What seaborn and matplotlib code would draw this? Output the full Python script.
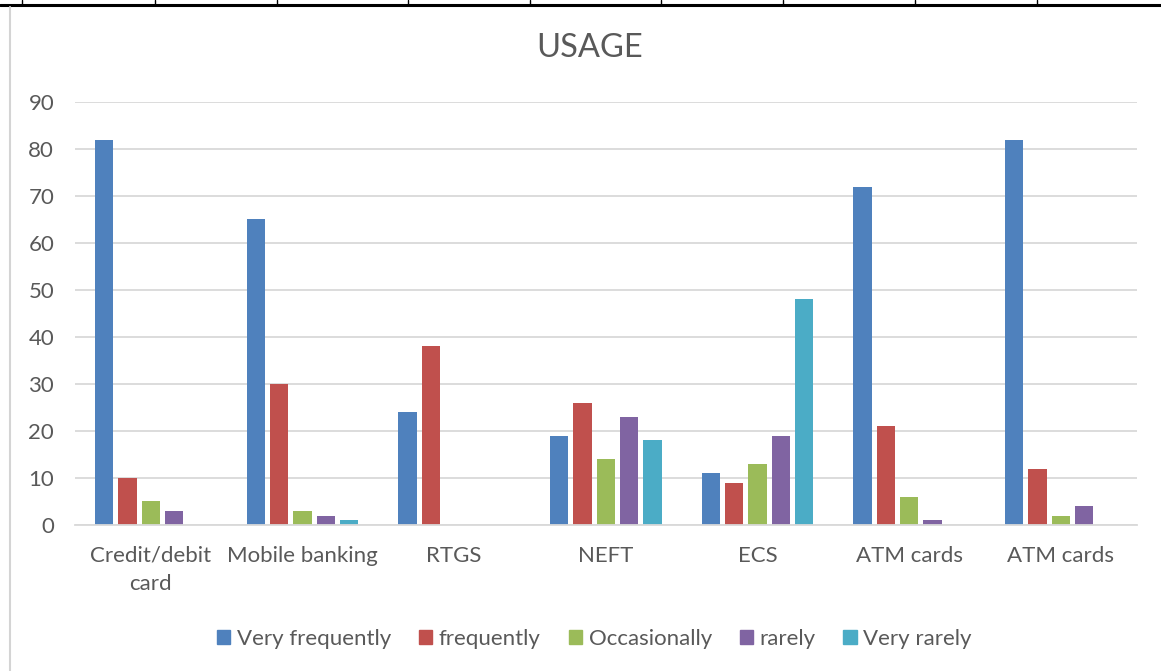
import matplotlib
matplotlib.use("Agg")
import matplotlib.pyplot as plt
import matplotlib.lines as mlines
import seaborn as sns
import pandas as pd

# Payment channels (the last two share a name, so positions are used on the axis)
categories = ["Credit/debit\ncard", "Mobile banking", "RTGS", "NEFT", "ECS", "ATM cards", "ATM cards"]
series = ["Very frequently", "frequently", "Occasionally", "rarely", "Very rarely"]

very_frequently = [82, 65, 24, 19, 11, 72, 82]
frequently = [10, 30, 38, 26, 9, 21, 12]
occasionally = [5, 3, 0, 14, 13, 6, 2]
rarely = [3, 2, 0, 23, 19, 1, 4]
very_rarely = [0, 1, 0, 18, 48, 0, 0]

colors = ["#4F81BD", "#C0504D", "#9BBB59", "#8064A2", "#4BACC6"]
text_color = "#595959"

rows = []
for name, vals in zip(series, [very_frequently, frequently, occasionally, rarely, very_rarely]):
    for i, v in enumerate(vals):
        rows.append({"pos": i, "series": name, "value": v})
df = pd.DataFrame(rows)

sns.set_theme(style="white")
plt.rcParams["font.family"] = ["Lato", "DejaVu Sans"]

fig = plt.figure(figsize=(11.61, 6.71), dpi=100)
ax = fig.add_axes([0.0646, 0.2176, 0.9144, 0.6304])

sns.barplot(data=df, x="pos", y="value", hue="series", hue_order=series,
            palette=colors, width=0.77, gap=0.22, order=list(range(len(categories))),
            ax=ax, legend=False, saturation=1, edgecolor="none", linewidth=0)

ax.set_ylim(0, 90)
ax.set_xlim(-0.5, len(categories) - 0.5)
ax.set_yticks(range(0, 91, 10))
ax.yaxis.grid(True, color="#d9d9d9", linewidth=1.3)
ax.set_axisbelow(True)
for s in ["top", "right", "left"]:
    ax.spines[s].set_visible(False)
ax.spines["bottom"].set_color("#d9d9d9")
ax.spines["bottom"].set_linewidth(1.3)
ax.set_xticks(range(len(categories)))
ax.set_xticklabels(categories, fontsize=16, color=text_color, linespacing=1.5)
ax.tick_params(axis="y", labelsize=16, labelcolor=text_color, length=0, pad=15)
ax.tick_params(axis="x", length=0, pad=15)
ax.set_xlabel("")
ax.set_ylabel("")

fig.text(0.508, 0.929, "USAGE", ha="center", va="center", fontsize=23.5, color=text_color)

handles = [plt.Rectangle((0, 0), 1, 1, color=c) for c in colors]
fig.legend(handles, series, loc="center", bbox_to_anchor=(0.512, 0.048), ncol=5,
           frameon=False, fontsize=16, labelcolor=text_color, handlelength=0.6,
           handleheight=0.6, handletextpad=0.3, columnspacing=1.25)

# Surrounding table rules
W, H = 1161, 671
fig.add_artist(mlines.Line2D([0, 1], [1 - 4.5 / H, 1 - 4.5 / H], color="black", linewidth=2.2,
                             transform=fig.transFigure))
for x in [22, 155, 277, 408, 530, 661, 783, 915, 1037]:
    fig.add_artist(mlines.Line2D([x / W, x / W], [1 - 4 / H, 1], color="black", linewidth=1,
                                 transform=fig.transFigure))
fig.add_artist(mlines.Line2D([10 / W, 10 / W], [0, 1 - 7 / H], color="#d4d4d4", linewidth=1.5,
                             transform=fig.transFigure))

fig.savefig("out.png", dpi=100, facecolor="white")
